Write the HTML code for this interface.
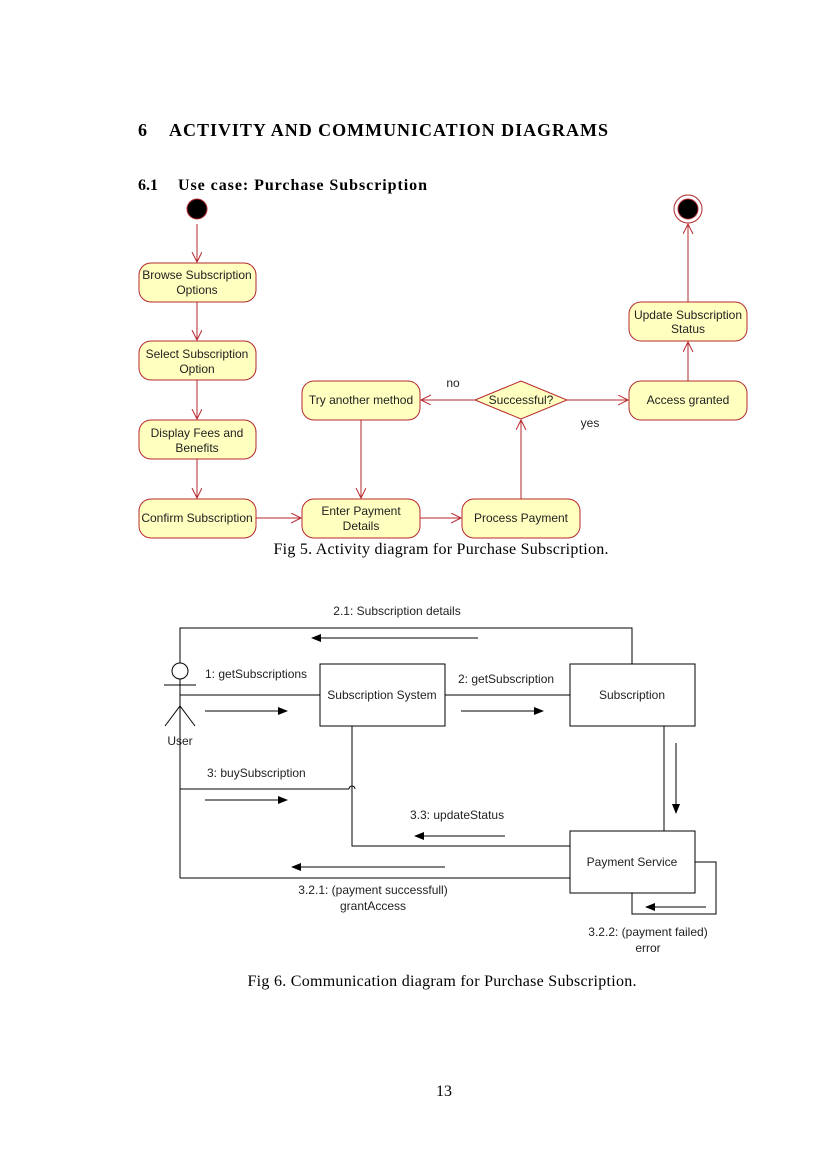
<!DOCTYPE html>
<html><head><meta charset="utf-8"><style>
body{margin:0;background:#fff;}
svg{display:block;}
.s{font-family:"Liberation Sans",sans-serif;font-size:12px;fill:#222;}
.t{font-family:"Liberation Serif",serif;fill:#000;}
</style></head><body>
<svg width="827" height="1169" viewBox="0 0 827 1169">
<defs>
<marker id="oa" markerWidth="12" markerHeight="12" refX="10" refY="5" orient="auto" markerUnits="userSpaceOnUse"><path d="M0,0 L10,5 L0,10" fill="none" stroke="#b5282e" stroke-width="1"/></marker>
<marker id="fa" markerWidth="12" markerHeight="10" refX="9" refY="4" orient="auto" markerUnits="userSpaceOnUse"><path d="M0,0 L10,4 L0,8 Z" fill="#000"/></marker>
</defs>
<text class="t" x="138" y="136" font-size="18" font-weight="bold">6</text>
<text class="t" x="169" y="136" font-size="18" font-weight="bold" textLength="439">ACTIVITY AND COMMUNICATION DIAGRAMS</text>
<text class="t" x="138" y="190" font-size="16" font-weight="bold">6.1</text>
<text class="t" x="178" y="190" font-size="16" font-weight="bold" textLength="249">Use case: Purchase Subscription</text>

<g stroke="#b5282e" fill="#ffffc0" stroke-width="1">
<circle cx="197" cy="209" r="10" fill="#000" stroke="#b5282e"/>
<circle cx="688" cy="209" r="14" fill="#fff"/>
<circle cx="688" cy="209" r="10" fill="#000"/>
<rect x="139" y="263" width="117" height="39" rx="12"/>
<rect x="139" y="341" width="117" height="39" rx="12"/>
<rect x="139" y="420" width="117" height="39" rx="12"/>
<rect x="139" y="499" width="117" height="39" rx="12"/>
<rect x="302" y="499" width="118" height="39" rx="12"/>
<rect x="462" y="499" width="118" height="39" rx="12"/>
<rect x="302" y="381" width="118" height="39" rx="12"/>
<rect x="629" y="381" width="118" height="39" rx="12"/>
<rect x="629" y="302" width="118" height="39" rx="12"/>
<polygon points="475,400 521,381 567,400 521,419"/>
</g>
<g stroke="#b5282e" fill="none" stroke-width="1">
<line x1="197" y1="224" x2="197" y2="262" marker-end="url(#oa)"/>
<line x1="197" y1="302" x2="197" y2="340" marker-end="url(#oa)"/>
<line x1="197" y1="380" x2="197" y2="419" marker-end="url(#oa)"/>
<line x1="197" y1="459" x2="197" y2="498" marker-end="url(#oa)"/>
<line x1="256" y1="518" x2="301" y2="518" marker-end="url(#oa)"/>
<line x1="420" y1="518" x2="461" y2="518" marker-end="url(#oa)"/>
<line x1="361" y1="420" x2="361" y2="498" marker-end="url(#oa)"/>
<line x1="521" y1="499" x2="521" y2="420" marker-end="url(#oa)"/>
<line x1="475" y1="400" x2="421" y2="400" marker-end="url(#oa)"/>
<line x1="567" y1="400" x2="628" y2="400" marker-end="url(#oa)"/>
<line x1="688" y1="381" x2="688" y2="342" marker-end="url(#oa)"/>
<line x1="688" y1="302" x2="688" y2="224" marker-end="url(#oa)"/>
</g>
<g class="s" text-anchor="middle">
<text x="197" y="279">Browse Subscription</text><text x="197" y="294">Options</text>
<text x="197" y="358">Select Subscription</text><text x="197" y="373">Option</text>
<text x="197" y="437">Display Fees and</text><text x="197" y="452">Benefits</text>
<text x="197" y="522">Confirm Subscription</text>
<text x="361" y="515">Enter Payment</text><text x="361" y="530">Details</text>
<text x="521" y="522">Process Payment</text>
<text x="361" y="404">Try another method</text>
<text x="521" y="404">Successful?</text>
<text x="688" y="404">Access granted</text>
<text x="688" y="319">Update Subscription</text><text x="688" y="333">Status</text>
<text x="453" y="387">no</text>
<text x="590" y="427">yes</text>
</g>
<text class="t" x="441" y="554" font-size="16" text-anchor="middle" textLength="335">Fig 5. Activity diagram for Purchase Subscription.</text>

<g stroke="#000" fill="none" stroke-width="1">
<rect x="320" y="664" width="125" height="62" fill="#fff"/>
<rect x="570" y="664" width="125" height="62" fill="#fff"/>
<rect x="570" y="831" width="125" height="62" fill="#fff"/>
<polyline points="180,878 180,628 632,628 632,664"/>
<line x1="180" y1="695" x2="320" y2="695"/>
<line x1="445" y1="695" x2="570" y2="695"/>
<polyline points="180,789 349,789 M355,789 601,789 601,726"/>
<path d="M349,789 a3,3 0 0 1 6,0"/>
<polyline points="352,726 352,846 570,846"/>
<line x1="180" y1="878" x2="570" y2="878"/>
<line x1="664" y1="726" x2="664" y2="831"/>
<polyline points="695,862 716,862 716,914 632,914 632,893"/>
<circle cx="180" cy="671" r="8" fill="#fff"/>
<line x1="164" y1="685" x2="196" y2="685"/>
<polyline points="165,726 180,706 195,726"/>
<line x1="478" y1="638" x2="312" y2="638" marker-end="url(#fa)"/>
<line x1="205" y1="711" x2="287" y2="711" marker-end="url(#fa)"/>
<line x1="461" y1="711" x2="543" y2="711" marker-end="url(#fa)"/>
<line x1="205" y1="800" x2="287" y2="800" marker-end="url(#fa)"/>
<line x1="505" y1="836" x2="415" y2="836" marker-end="url(#fa)"/>
<line x1="445" y1="867" x2="292" y2="867" marker-end="url(#fa)"/>
<line x1="676" y1="743" x2="676" y2="813" marker-end="url(#fa)"/>
<line x1="706" y1="907" x2="646" y2="907" marker-end="url(#fa)"/>
</g>
<g class="s">
<text x="382" y="699" text-anchor="middle">Subscription System</text>
<text x="632" y="699" text-anchor="middle">Subscription</text>
<text x="632" y="866" text-anchor="middle">Payment Service</text>
<text x="397" y="615" text-anchor="middle">2.1: Subscription details</text>
<text x="205" y="678">1: getSubscriptions</text>
<text x="458" y="683">2: getSubscription</text>
<text x="180" y="745" text-anchor="middle">User</text>
<text x="207" y="777">3: buySubscription</text>
<text x="410" y="819">3.3: updateStatus</text>
<text x="373" y="894" text-anchor="middle">3.2.1: (payment successfull)</text>
<text x="373" y="910" text-anchor="middle">grantAccess</text>
<text x="648" y="936" text-anchor="middle">3.2.2: (payment failed)</text>
<text x="648" y="952" text-anchor="middle">error</text>
</g>
<text class="t" x="442" y="986" font-size="16" text-anchor="middle" textLength="389">Fig 6. Communication diagram for Purchase Subscription.</text>
<text class="t" x="444" y="1096" font-size="16" text-anchor="middle">13</text>
</svg>
</body></html>
